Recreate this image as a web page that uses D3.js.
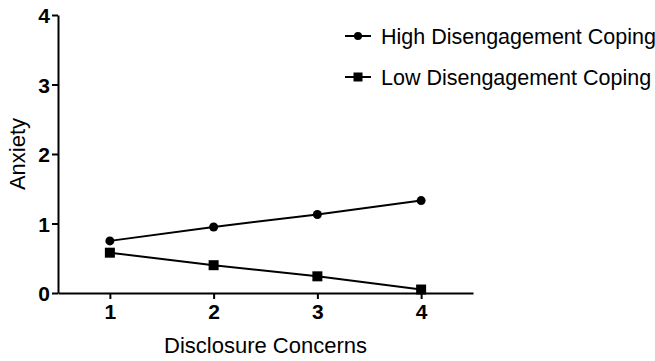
<!DOCTYPE html>
<html>
<head>
<meta charset="utf-8">
<script src="https://cdn.jsdelivr.net/npm/d3@7"></script>
<style>
  html, body { margin: 0; padding: 0; background: #fff; }
  svg { display: block; font-family: "Liberation Sans", Arial, sans-serif; }
</style>
</head>
<body>
<svg id="chart" width="655" height="361"></svg>
<script>
// Disclosure concerns levels on the x axis
const concerns = [1, 2, 3, 4];
// Anxiety by disengagement coping group
const highCoping = [0.75, 0.95, 1.13, 1.33];
const lowCoping = [0.58, 0.40, 0.24, 0.05];
const seriesNames = ["High Disengagement Coping", "Low Disengagement Coping"];
const yTicks = [0, 1, 2, 3, 4];

const svg = d3.select("#chart");
const margin = { left: 58, top: 15, right: 182, bottom: 68 };
const W = 655, H = 361;

const x = d3.scaleLinear().domain([0.5, 4.5]).range([margin.left, W - margin.right]);
const y = d3.scaleLinear().domain([0, 4]).range([H - margin.bottom, margin.top]);

// Axes
const xAxis = svg.append("g")
  .attr("transform", `translate(0,${y(0)})`)
  .call(d3.axisBottom(x).tickValues(concerns).tickFormat(d3.format("d")).tickSize(6).tickSizeOuter(0).tickPadding(5));
const yAxis = svg.append("g")
  .attr("transform", `translate(${x(0.5)},0)`)
  .call(d3.axisLeft(y).tickValues(yTicks).tickFormat(d3.format("d")).tickSize(6).tickSizeOuter(0).tickPadding(2));

[xAxis, yAxis].forEach(g => {
  g.select(".domain").attr("stroke", "#000").attr("stroke-width", 2);
  g.selectAll(".tick line").attr("stroke", "#000").attr("stroke-width", 2);
  g.selectAll(".tick text")
    .attr("fill", "#000")
    .style("font-size", "21px")
    .style("font-weight", "bold")
    .style("font-family", "'Liberation Sans', Arial, sans-serif");
});
yAxis.selectAll(".tick text").attr("dy", "0.36em");

// Axis titles
svg.append("text")
  .attr("x", (x(0.5) + x(4.5)) / 2)
  .attr("y", 353)
  .attr("text-anchor", "middle")
  .style("font-size", "22px")
  .text("Disclosure Concerns");
svg.append("text")
  .attr("transform", `translate(25,${(y(0) + y(4)) / 2}) rotate(-90)`)
  .attr("text-anchor", "middle")
  .style("font-size", "22px")
  .text("Anxiety");

const line = d3.line().x((d, i) => x(concerns[i])).y(d => y(d));

// Lines
[highCoping, lowCoping].forEach(vals => {
  svg.append("path")
    .datum(vals)
    .attr("fill", "none")
    .attr("stroke", "#000")
    .attr("stroke-width", 2)
    .attr("d", line);
});

// Markers
svg.append("g").selectAll("circle")
  .data(highCoping)
  .join("circle")
  .attr("cx", (d, i) => x(concerns[i]))
  .attr("cy", d => y(d))
  .attr("r", 4.5)
  .attr("fill", "#000");

const sq = 10;
svg.append("g").selectAll("rect")
  .data(lowCoping)
  .join("rect")
  .attr("x", (d, i) => x(concerns[i]) - sq / 2)
  .attr("y", d => y(d) - sq / 2)
  .attr("width", sq)
  .attr("height", sq)
  .attr("fill", "#000");

// Legend
const legend = svg.append("g");
const rows = [36, 77];
seriesNames.forEach((name, i) => {
  const g = legend.append("g").attr("transform", `translate(345,${rows[i]})`);
  g.append("line").attr("x1", 0).attr("x2", 26).attr("y1", 0).attr("y2", 0)
    .attr("stroke", "#000").attr("stroke-width", 2);
  if (i === 0) {
    g.append("circle").attr("cx", 13).attr("cy", 0).attr("r", 4).attr("fill", "#000");
  } else {
    g.append("rect").attr("x", 13 - 4.5).attr("y", -4.5).attr("width", 9).attr("height", 9).attr("fill", "#000");
  }
  g.append("text")
    .attr("x", 36)
    .attr("y", 0)
    .attr("dy", "0.36em")
    .style("font-size", "21.5px")
    .text(name);
});
</script>
</body>
</html>
